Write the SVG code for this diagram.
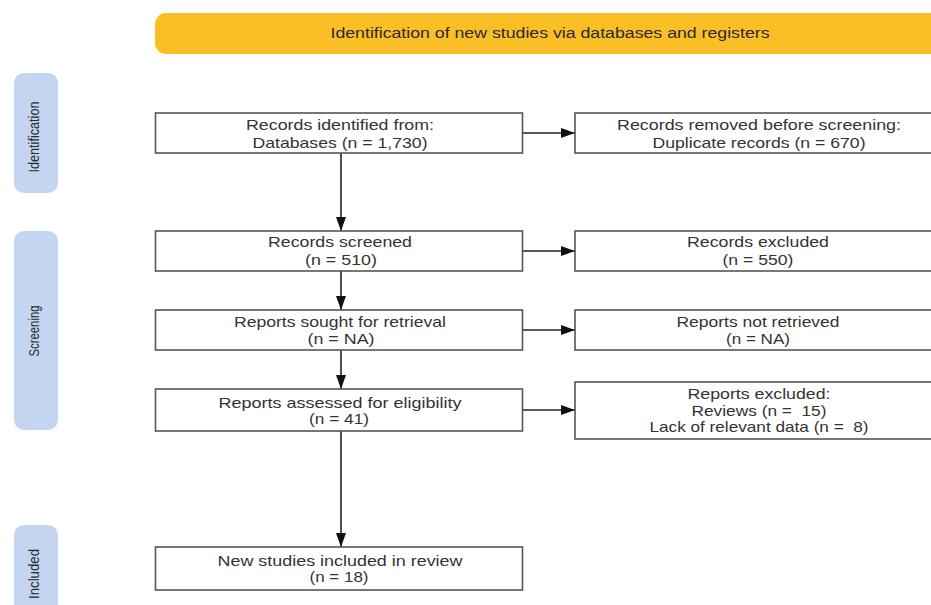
<svg xmlns="http://www.w3.org/2000/svg" width="931" height="605" viewBox="0 0 931 605">
<defs>
<style>
.box{fill:#fff;stroke:#555;stroke-width:1.6}
.side{fill:#c3d5f0}
.t{font-family:"Liberation Sans",Arial,sans-serif;font-size:15px;fill:#333;text-anchor:middle}
.st{font-family:"Liberation Sans",Arial,sans-serif;font-size:15px;fill:#2a2a2a;text-anchor:middle}
.bt{font-family:"Liberation Sans",Arial,sans-serif;font-size:14px;fill:#2a2a2a;text-anchor:middle}
.c{stroke:#222;stroke-width:1.6;fill:none}
</style>
<marker id="ah" markerWidth="14" markerHeight="10" refX="14" refY="5" orient="auto" markerUnits="userSpaceOnUse">
<path d="M0,0 L14,5 L0,10 Z" fill="#111"/>
</marker>
</defs>
<rect width="931" height="605" fill="#fff"/>

<g id="banner">
<rect x="155" y="13" width="790" height="41" rx="11" fill="#fbbf26"/>
<text class="bt" x="550" y="38" textLength="439" lengthAdjust="spacingAndGlyphs">Identification of new studies via databases and registers</text>
</g>

<g id="side-identification">
<rect class="side" x="14" y="73" width="44" height="120" rx="10"/>
<text class="st" transform="translate(39,137) rotate(-90)" textLength="71" lengthAdjust="spacingAndGlyphs">Identification</text>
</g>
<g id="side-screening">
<rect class="side" x="14" y="231" width="44" height="199" rx="10"/>
<text class="st" transform="translate(39,331) rotate(-90)" textLength="51" lengthAdjust="spacingAndGlyphs">Screening</text>
</g>
<g id="side-included">
<rect class="side" x="14" y="525" width="44" height="100" rx="10"/>
<text class="st" transform="translate(39,574) rotate(-90)" textLength="50" lengthAdjust="spacingAndGlyphs">Included</text>
</g>

<g id="connectors">
<line class="c" x1="523" y1="133" x2="575" y2="133" marker-end="url(#ah)"/>
<line class="c" x1="523" y1="251" x2="575" y2="251" marker-end="url(#ah)"/>
<line class="c" x1="523" y1="330" x2="575" y2="330" marker-end="url(#ah)"/>
<line class="c" x1="523" y1="410" x2="575" y2="410" marker-end="url(#ah)"/>
<line class="c" x1="341" y1="153" x2="341" y2="231" marker-end="url(#ah)"/>
<line class="c" x1="341" y1="271" x2="341" y2="310" marker-end="url(#ah)"/>
<line class="c" x1="341" y1="350" x2="341" y2="389" marker-end="url(#ah)"/>
<line class="c" x1="341" y1="431" x2="341" y2="547" marker-end="url(#ah)"/>
</g>

<g id="records-identified">
<rect class="box" x="155.5" y="113" width="367" height="40"/>
<text class="t" x="340" y="130" textLength="188" lengthAdjust="spacingAndGlyphs">Records identified from:</text>
<text class="t" x="340" y="148" textLength="175" lengthAdjust="spacingAndGlyphs">Databases (n = 1,730)</text>
</g>
<g id="records-removed">
<rect class="box" x="575" y="113" width="370" height="40"/>
<text class="t" x="759" y="130" textLength="284" lengthAdjust="spacingAndGlyphs">Records removed before screening:</text>
<text class="t" x="759" y="148" textLength="213" lengthAdjust="spacingAndGlyphs">Duplicate records (n = 670)</text>
</g>

<g id="records-screened">
<rect class="box" x="155.5" y="231" width="367" height="40"/>
<text class="t" x="340" y="247" textLength="144" lengthAdjust="spacingAndGlyphs">Records screened</text>
<text class="t" x="341" y="265" textLength="72" lengthAdjust="spacingAndGlyphs">(n = 510)</text>
</g>
<g id="records-excluded">
<rect class="box" x="575" y="231" width="370" height="40"/>
<text class="t" x="758" y="247" textLength="142" lengthAdjust="spacingAndGlyphs">Records excluded</text>
<text class="t" x="758" y="265" textLength="71" lengthAdjust="spacingAndGlyphs">(n = 550)</text>
</g>

<g id="reports-sought">
<rect class="box" x="155.5" y="310" width="367" height="40"/>
<text class="t" x="340" y="327" textLength="212" lengthAdjust="spacingAndGlyphs">Reports sought for retrieval</text>
<text class="t" x="341" y="344" textLength="67" lengthAdjust="spacingAndGlyphs">(n = NA)</text>
</g>
<g id="reports-not-retrieved">
<rect class="box" x="575" y="310" width="370" height="40"/>
<text class="t" x="758" y="327" textLength="163" lengthAdjust="spacingAndGlyphs">Reports not retrieved</text>
<text class="t" x="758" y="344" textLength="64" lengthAdjust="spacingAndGlyphs">(n = NA)</text>
</g>

<g id="reports-assessed">
<rect class="box" x="155.5" y="389" width="367" height="42"/>
<text class="t" x="340" y="408" textLength="243" lengthAdjust="spacingAndGlyphs">Reports assessed for eligibility</text>
<text class="t" x="339" y="424" textLength="60" lengthAdjust="spacingAndGlyphs">(n = 41)</text>
</g>
<g id="reports-excluded">
<rect class="box" x="575" y="382" width="370" height="57"/>
<text class="t" x="759" y="399" textLength="143" lengthAdjust="spacingAndGlyphs">Reports excluded:</text>
<text class="t" x="759" y="416" textLength="135" lengthAdjust="spacingAndGlyphs" xml:space="preserve">Reviews (n =  15)</text>
<text class="t" x="759" y="432" textLength="219" lengthAdjust="spacingAndGlyphs" xml:space="preserve">Lack of relevant data (n =  8)</text>
</g>

<g id="studies-included">
<rect class="box" x="155.5" y="547" width="367" height="43"/>
<text class="t" x="340" y="566" textLength="245" lengthAdjust="spacingAndGlyphs">New studies included in review</text>
<text class="t" x="339" y="582" textLength="59" lengthAdjust="spacingAndGlyphs">(n = 18)</text>
</g>
</svg>
